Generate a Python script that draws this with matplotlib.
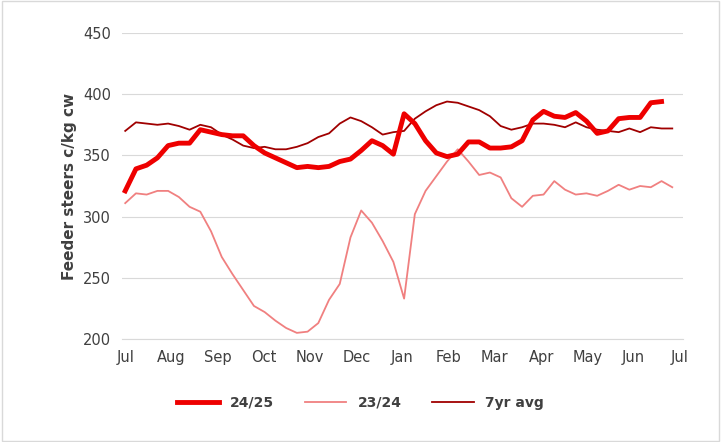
import matplotlib.pyplot as plt
import numpy as np

months = ["Jul","Aug","Sep","Oct","Nov","Dec","Jan","Feb","Mar","Apr","May","Jun","Jul"]
s2425 = [321,339,342,348,358,360,360,371,369,367,366,366,358,352,348,344,340,341,340,341,345,347,354,362,358,351,384,376,362,352,349,351,361,361,356,356,357,362,379,386,382,381,385,378,368,370,380,381,381,393,394]
s2324 = [311,319,318,321,321,316,308,304,288,267,253,240,227,222,215,209,205,206,213,232,245,283,305,295,280,263,233,302,321,333,345,355,345,334,336,332,315,308,317,318,329,322,318,319,317,321,326,322,325,324,329,324]
s7yr = [370,377,376,375,376,374,371,375,373,367,363,358,356,357,355,355,357,360,365,368,376,381,378,373,367,369,370,380,386,391,394,393,390,387,382,374,371,373,376,376,375,373,377,373,371,370,369,372,369,373,372,372]

fig = plt.figure(figsize=(7.21,4.42), dpi=100)
ax = fig.add_axes([122/721, 1-339/442, (683-122)/721, (339-33)/442])
ax.plot(np.arange(len(s2324)), s2324, color="#f08080", lw=1.3, label="23/24", zorder=2)
ax.plot(np.arange(len(s7yr)), s7yr, color="#a00000", lw=1.3, label="7yr avg", zorder=3)
ax.plot(np.arange(len(s2425)), s2425, color="#ee0000", lw=3.5, label="24/25", zorder=4)
ax.set_ylim(200,450)
ax.set_yticks(range(200,451,50))
ax.set_xlim(-0.3, 52)
ax.set_xticks(np.arange(13)*51.7/12)
ax.set_xticklabels(months)
ax.grid(axis="y", color="#d9d9d9", lw=0.8)
ax.set_axisbelow(True)
for s in ["top","right","left"]:
    ax.spines[s].set_visible(False)
ax.spines["bottom"].set_color("#d9d9d9")
ax.tick_params(length=0, labelsize=10.5, colors="#404040", pad=8)
ax.set_ylabel("Feeder steers c/kg cw", fontsize=11, fontweight="bold", color="#404040")
h, l = ax.get_legend_handles_labels()
order = [2,0,1]
leg = fig.legend([h[i] for i in order], [l[i] for i in order], loc="center", bbox_to_anchor=(0.5, 1-403/442),
                 ncol=3, frameon=False, fontsize=10, handlelength=3, columnspacing=2.2)
for t in leg.get_texts():
    t.set_fontweight("bold"); t.set_color("#404040")
fig.patches.append(plt.Rectangle((0.003,0.003),0.994,0.994, transform=fig.transFigure, fill=False, ec="#d9d9d9", lw=1))
fig.savefig("out.png", dpi=100)
